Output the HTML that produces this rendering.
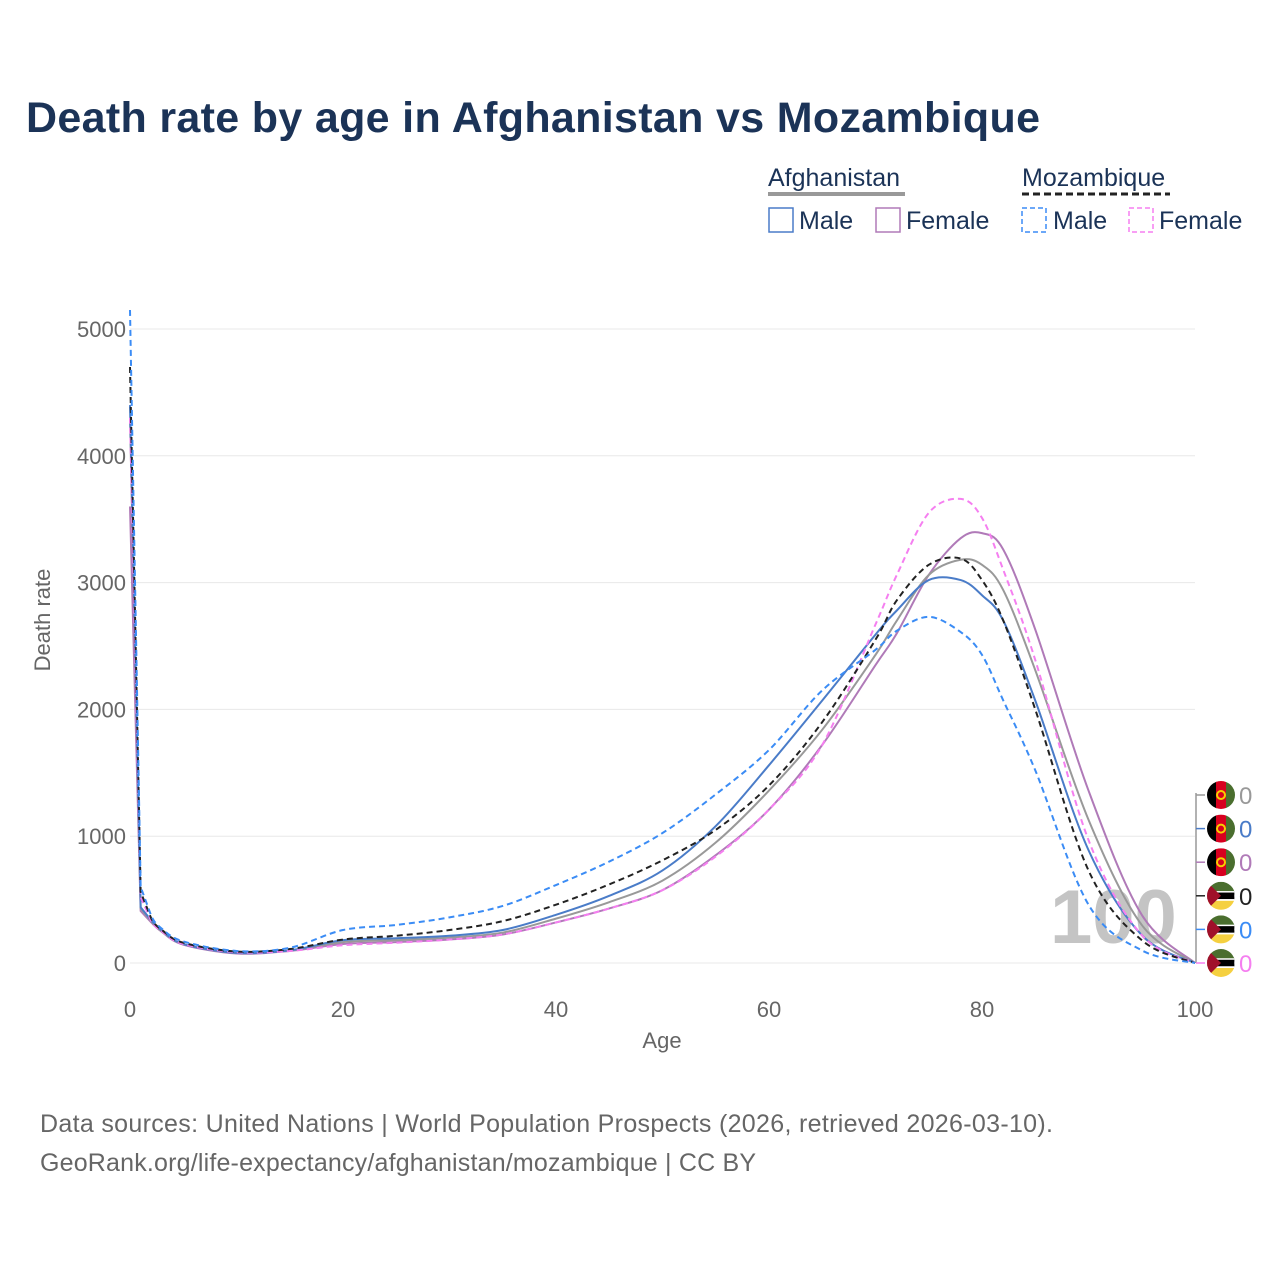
<!DOCTYPE html>
<html><head><meta charset="utf-8"><style>
body{margin:0;background:#fff;font-family:"Liberation Sans",sans-serif}
</style></head><body>
<svg id="chart" width="1280" height="1280" viewBox="0 0 1280 1280" style="font-family:'Liberation Sans',sans-serif">
<defs id="defs"></defs>
<text x="26" y="132" font-size="43" font-weight="bold" fill="#1b3357" textLength="1014">Death rate by age in Afghanistan vs Mozambique</text>
<g font-size="25" fill="#1b3357">
<text x="768" y="186">Afghanistan</text>
<line x1="768" y1="194" x2="905" y2="194" stroke="#999" stroke-width="4"/>
<text x="1022" y="186">Mozambique</text>
<line x1="1022" y1="194" x2="1170" y2="194" stroke="#222" stroke-width="3" stroke-dasharray="7,4"/>
<g><rect x="769" y="208" width="24" height="24" fill="none" stroke="#4a7cc8" stroke-width="1.5"/><text x="799" y="229">Male</text></g>
<g><rect x="876" y="208" width="24" height="24" fill="none" stroke="#b07ab8" stroke-width="1.5"/><text x="906" y="229">Female</text></g>
<g><rect x="1022" y="208" width="24" height="24" fill="none" stroke="#3b8cf5" stroke-width="1.5" stroke-dasharray="5,3"/><text x="1053" y="229">Male</text></g>
<g><rect x="1129" y="208" width="24" height="24" fill="none" stroke="#f57ff0" stroke-width="1.5" stroke-dasharray="5,3"/><text x="1159" y="229">Female</text></g>
</g>
<g id="grid"></g>
<text x="1050" y="943" font-size="76" fill="#c4c4c4" font-weight="bold">100</text>
<g id="series"></g>
<g id="axes" font-size="22" fill="#666"></g>
<text x="50" y="620" font-size="22" fill="#666" transform="rotate(-90 50 620)" text-anchor="middle">Death rate</text>
<text x="662" y="1048" font-size="22" fill="#666" text-anchor="middle">Age</text>
<g id="endlab"></g>
<text x="40" y="1132" font-size="25" fill="#666" textLength="1013">Data sources: United Nations | World Population Prospects (2026, retrieved 2026-03-10).</text>
<text x="40" y="1171" font-size="25" fill="#666" textLength="716">GeoRank.org/life-expectancy/afghanistan/mozambique | CC BY</text>
</svg>
<script>
const ages=[0,1,2,3,5,10,15,20,25,30,35,40,45,50,55,60,65,70,72,75,78,80,82,85,90,95,100];
const afgAll=[4300,430,330,250,150,80,100,165,180,200,240,350,480,650,950,1360,1840,2430,2700,3060,3180,3140,2940,2310,1130,300,0];
const afgMale=[4400,440,335,255,150,80,100,180,195,215,260,380,530,730,1080,1560,2070,2590,2780,3020,3020,2900,2700,2070,890,220,0];
const afgFemale=[3600,410,320,245,145,75,95,150,165,185,225,320,430,575,850,1210,1720,2350,2600,3060,3350,3390,3260,2630,1360,380,0];
const mozAll=[4700,560,350,260,160,90,110,185,215,260,330,460,620,810,1050,1400,1900,2550,2860,3140,3190,3020,2700,2000,730,180,0];
const mozMale=[5150,600,370,270,170,95,120,260,300,360,450,615,800,1025,1330,1680,2150,2470,2620,2730,2610,2430,2070,1520,460,100,0];
const mozFemale=[4300,520,330,250,150,85,95,140,160,185,225,320,430,575,840,1210,1720,2670,3060,3550,3660,3510,3100,2390,970,220,0];
const yTicks=[0,1000,2000,3000,4000,5000];
const xTicks=[0,20,40,60,80,100];
const NS="http://www.w3.org/2000/svg";
const X=a=>130+a*10.65, Y=v=>963-v*0.1268;
function el(t,a,p){const e=document.createElementNS(NS,t);for(const k in a)e.setAttribute(k,a[k]);p.appendChild(e);return e;}
const grid=document.getElementById('grid'),axes=document.getElementById('axes');
yTicks.forEach(v=>{const l=el('line',{x1:130,x2:1195,y1:Y(v),y2:Y(v),stroke:'#e8e8e8','stroke-width':1},grid);


const t=el('text',{x:126,y:Y(v)+8,'text-anchor':'end'},axes);t.textContent=v;

});
xTicks.forEach(v=>{const t=el('text',{x:X(v),y:1017,'text-anchor':'middle'},axes);t.textContent=v;

});
function path(vals){const p=ages.map((a,i)=>[X(a),Y(vals[i])]);let d='M'+p[0][0]+','+p[0][1];
for(let i=0;i<p.length-1;i++){const p0=p[Math.max(0,i-1)],p1=p[i],p2=p[i+1],p3=p[Math.min(p.length-1,i+2)];
const k=(i<2)?0:1/6;d+=' C'+(p1[0]+(p2[0]-p0[0])*k)+','+(p1[1]+(p2[1]-p0[1])*k)+' '+(p2[0]-(p3[0]-p1[0])*k)+','+(p2[1]-(p3[1]-p1[1])*k)+' '+p2[0]+','+p2[1];}return d;}
const ser=document.getElementById('series');
const defs=[[afgFemale,'#b07ab8',null,'afg-female-line'],[afgAll,'#999',null,'afg-total-line'],[afgMale,'#4a7cc8',null,'afg-male-line'],[mozFemale,'#f57ff0','6,4','moz-female-line'],[mozAll,'#222','6,4','moz-total-line'],[mozMale,'#3b8cf5','6,4','moz-male-line']];
defs.forEach(([v,c,da,n])=>{const a={d:path(v),fill:'none',stroke:c,'stroke-width':2};if(da)a['stroke-dasharray']=da;const e=el('path',a,ser);

});
const end=document.getElementById('endlab');
const dd=document.getElementById('defs');
el('line',{x1:1196,y1:793,x2:1196,y2:963,stroke:'#999','stroke-width':1.5},end);
const labs=[['#999','afg'],['#4a7cc8','afg'],['#b07ab8','afg'],['#222','moz'],['#3b8cf5','moz'],['#f57ff0','moz']];
labs.forEach(([c,f],i)=>{const y=795+i*33.6;
el('line',{x1:1196,y1:y,x2:1205,y2:y,stroke:c,'stroke-width':1.5},end);
const cp=el('clipPath',{id:'fc'+i},dd);el('circle',{cx:1221,cy:y,r:14},cp);
const g=el('g',{'clip-path':'url(#fc'+i+')'},end);


const cx=1221;
if(f==='afg'){el('rect',{x:cx-14,y:y-14,width:10,height:28,fill:'#000'},g);el('rect',{x:cx-5,y:y-14,width:10,height:28,fill:'#d7001f'},g);el('rect',{x:cx+5,y:y-14,width:10,height:28,fill:'#4a6e2e'},g);el('circle',{cx:cx,cy:y,r:4,fill:'none',stroke:'#f5d000','stroke-width':2},g);}
else{el('rect',{x:cx-14,y:y-14,width:28,height:10,fill:'#4a6e2e'},g);el('rect',{x:cx-14,y:y-4,width:28,height:8,fill:'#000',stroke:'#fff','stroke-width':1.5},g);el('rect',{x:cx-14,y:y+5,width:28,height:10,fill:'#f5d040'},g);el('polygon',{points:(cx-14)+','+(y-14)+' '+(cx)+','+y+' '+(cx-14)+','+(y+14),fill:'#a0102a'},g);}
const t=el('text',{x:1239,y:y+9,'font-size':24,fill:c},end);t.textContent='0';

});
</script>
</body></html>
